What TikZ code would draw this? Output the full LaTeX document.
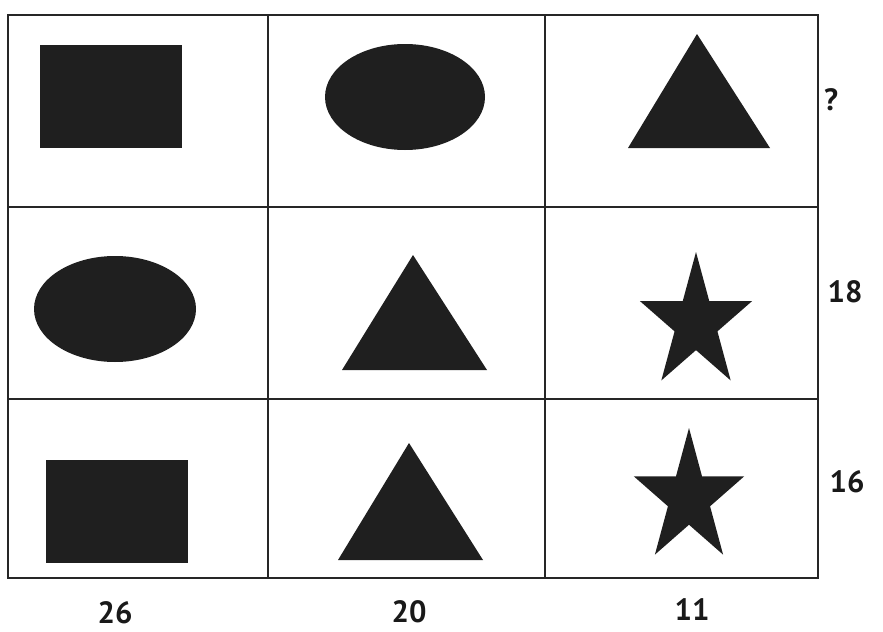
\documentclass[tikz,border=0pt]{standalone}
\usepackage{fontspec}
\setmainfont{PT Sans}
\usetikzlibrary{calc}
\tikzset{
  gridline/.style = {draw=black!85, line width=0.9pt},
  solid shape/.style = {fill=black!88, draw=none},
  sumlabel/.style = {font=\bfseries\fontsize{17.5pt}{19pt}\selectfont, text=black!90, inner sep=0pt}
}
% star: centre x, centre y, x radius, y radius
\newcommand{\filledstar}[4]{%
  \fill[solid shape] (#1,#2) ++(-90:#3 and #4)
    \foreach \k in {1,...,9} {
      -- ($(#1,#2)+(-90+36*\k:{#3*(0.382+0.618*mod(\k+1,2))} and {#4*(0.382+0.618*mod(\k+1,2))})$)
    } -- cycle;}

\begin{document}
\begin{tikzpicture}[x=0.02cm, y=-0.02cm]
\useasboundingbox (0,0) rectangle (883,632);

% grid
\draw[gridline] (8,15) rectangle (818,578);
\draw[gridline] (268,15) -- (268,578);
\draw[gridline] (545,15) -- (545,578);
\draw[gridline] (8,207) -- (818,207);
\draw[gridline] (8,399) -- (818,399);

% row 1
\fill[solid shape] (40,45) rectangle (182,148);
\fill[solid shape] (405,97) ellipse [x radius=80, y radius=53];
\fill[solid shape] (697,34) -- (628,148) -- (770,148) -- cycle;

% row 2
\fill[solid shape] (115,309) ellipse [x radius=81, y radius=53];
\fill[solid shape] (413,255) -- (342,370) -- (487,370) -- cycle;
\filledstar{696}{323}{59}{71}

% row 3
\fill[solid shape] (46,460) rectangle (188,563);
\fill[solid shape] (409,443) -- (338,560) -- (483,560) -- cycle;
\filledstar{689}{498}{58}{70}

% sums
\node[sumlabel] (qmark) at (831,100) {?};
\node[sumlabel] (rowtwo) at (845,292) {18};
\node[sumlabel] (rowthree) at (847,482) {16};
\node[sumlabel] (colone) at (115,613) {26};
\node[sumlabel] (coltwo) at (409,612) {20};
\node[sumlabel] (colthree) at (692,610) {11};
\end{tikzpicture}
\end{document}
